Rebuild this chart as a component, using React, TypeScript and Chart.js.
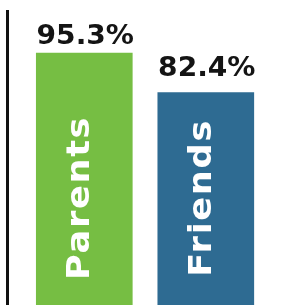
import React, { useEffect, useRef } from "react";
import { Chart, registerables } from "chart.js";

Chart.register(...registerables);

const categories = ["Parents", "Friends"];
const values = [95.3, 82.4];
const valueLabels = ["95.3%", "82.4%"];
const barColors = ["#76BE43", "#2E6B92"];

export default function App() {
  const ref = useRef<HTMLCanvasElement>(null);

  useEffect(() => {
    document.body.style.margin = "0";
    const labelGaps = [9, 16];

    const labelPlugin = {
      id: "barLabels",
      afterDatasetsDraw(chart: any) {
        const ctx = chart.ctx as CanvasRenderingContext2D;
        const meta = chart.getDatasetMeta(0);
        const area = chart.chartArea;
        meta.data.forEach((bar: any, i: number) => {
          ctx.save();
          ctx.translate(bar.x + 1, bar.y - labelGaps[i]);
          ctx.scale(1.04, 1);
          ctx.fillStyle = "#141414";
          ctx.font = "bold 27px 'DejaVu Sans'";
          ctx.textAlign = "center";
          ctx.textBaseline = "alphabetic";
          ctx.fillText(valueLabels[i], 0, 0);
          ctx.restore();

          ctx.save();
          ctx.translate(bar.x + 5, area.bottom - 106);
          ctx.rotate(-Math.PI / 2);
          ctx.scale(1.1, 1);
          ctx.font = "bold 32px 'DejaVu Sans'";
          (ctx as any).letterSpacing = "1.5px";
          ctx.fillStyle = "#ffffff";
          ctx.textAlign = "center";
          ctx.textBaseline = "alphabetic";
          ctx.fillText(categories[i], 1, 0);
          ctx.restore();
        });
      },
    };

    const chart = new Chart(ref.current!, {
      type: "bar",
      data: {
        datasets: [
          {
            data: values.map((v, i) => ({ x: i, y: v })),
            backgroundColor: barColors,
            borderWidth: 0,
            barThickness: 96,
          },
        ],
      },
      options: {
        responsive: false,
        animation: false,
        layout: { padding: { left: 7, top: 11, right: 0, bottom: 0 } },
        plugins: {
          legend: { display: false },
          tooltip: { enabled: false },
        },
        scales: {
          x: {
            type: "linear",
            display: false,
            offset: false,
            min: -0.636,
            max: 1.66,
          },
          y: {
            display: true,
            min: 13,
            max: 109,
            ticks: { display: false },
            grid: { display: false, drawTicks: false },
            border: { display: true, color: "#111111", width: 3 },
          },
        },
      },
      plugins: [labelPlugin],
    });

    return () => chart.destroy();
  }, []);

  return (
    <div style={{ position: "fixed", top: 0, left: 0, width: 286, height: 305 }}>
      <canvas ref={ref} width={286} height={305} style={{ display: "block" }} />
    </div>
  );
}
